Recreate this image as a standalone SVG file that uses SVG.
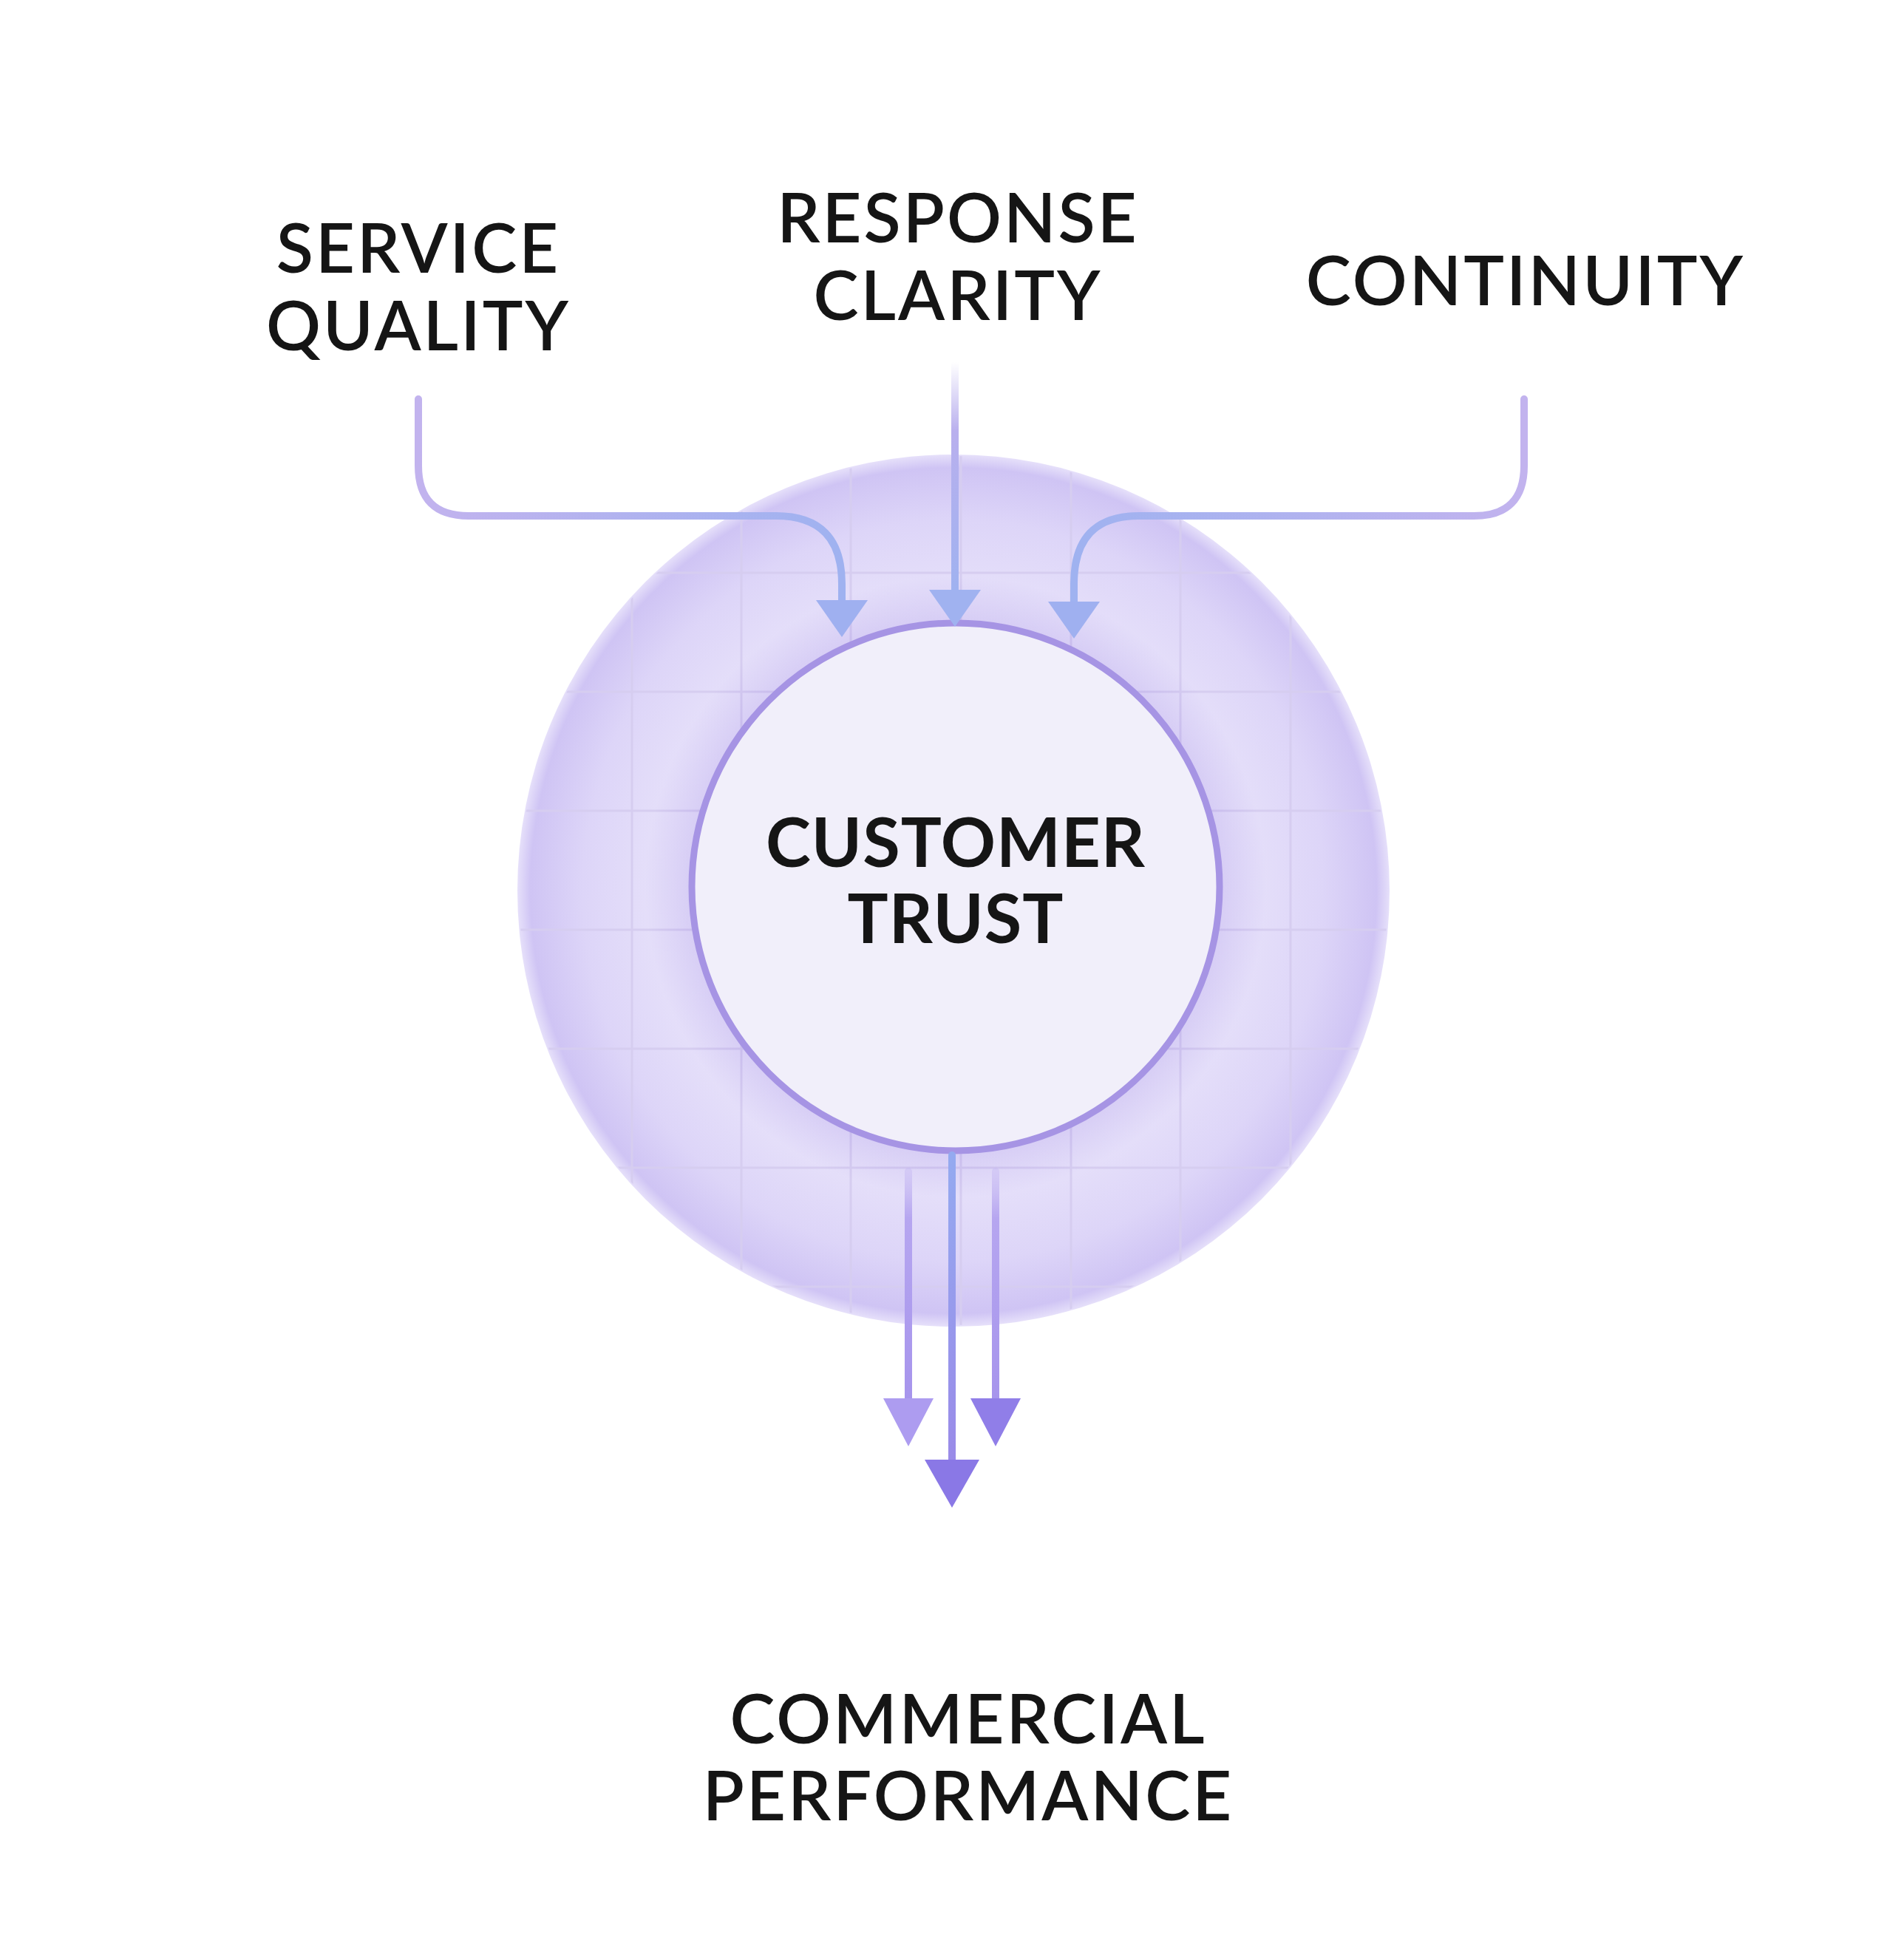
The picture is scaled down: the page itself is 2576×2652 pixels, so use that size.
<svg xmlns="http://www.w3.org/2000/svg" width="2576" height="2652" viewBox="0 0 2576 2652">
<style>
.lbl{font-family:Lato,"Open Sans","Liberation Sans",sans-serif;font-size:92px;font-weight:600;fill:#151515;text-anchor:middle;letter-spacing:3px}
.b{font-weight:700;letter-spacing:1px}
.ln{fill:none;stroke-width:10;stroke-linecap:round;stroke-linejoin:round}
.grid{stroke:#d6cdf0;stroke-width:3;fill:none}
</style>
<defs>
<radialGradient id="og" cx="0.5" cy="0.5" r="0.5">
<stop offset="0.55" stop-color="#ece8fb"/>
<stop offset="0.85" stop-color="#ddd5f8"/>
<stop offset="0.97" stop-color="#cfc4f4"/>
<stop offset="1" stop-color="#e6e0fa"/>
</radialGradient>
<radialGradient id="glow" cx="0.5" cy="0.5" r="0.5">
<stop offset="0.7" stop-color="#a48ee6" stop-opacity="0.55"/>
<stop offset="1" stop-color="#a48ee6" stop-opacity="0"/>
</radialGradient>
<linearGradient id="lg" gradientUnits="userSpaceOnUse" x1="566" y1="0" x2="1139" y2="0">
<stop offset="0" stop-color="#c2b3ee"/>
<stop offset="1" stop-color="#9fb2f0"/>
</linearGradient>
<linearGradient id="rg" gradientUnits="userSpaceOnUse" x1="2062" y1="0" x2="1453" y2="0">
<stop offset="0" stop-color="#c2b3ee"/>
<stop offset="1" stop-color="#9fb2f0"/>
</linearGradient>
<linearGradient id="vg" gradientUnits="userSpaceOnUse" x1="0" y1="490" x2="0" y2="800">
<stop offset="0" stop-color="#ffffff"/>
<stop offset="0.3" stop-color="#b9b0ee"/>
<stop offset="1" stop-color="#9fb2f0"/>
</linearGradient>
<linearGradient id="dg" gradientUnits="userSpaceOnUse" x1="0" y1="1585" x2="0" y2="1900">
<stop offset="0" stop-color="#c3b5f2" stop-opacity="0.4"/>
<stop offset="0.2" stop-color="#b6a6f0"/>
<stop offset="1" stop-color="#a694ec"/>
</linearGradient>
<linearGradient id="dc" gradientUnits="userSpaceOnUse" x1="0" y1="1563" x2="0" y2="1985">
<stop offset="0" stop-color="#94aaf0"/>
<stop offset="1" stop-color="#9a8ae8"/>
</linearGradient>
<clipPath id="oc"><circle cx="1290" cy="1205" r="588"/></clipPath>
</defs>

<g id="outer-ring">
<circle cx="1290" cy="1205" r="590" fill="url(#og)"/>
<g clip-path="url(#oc)" class="grid">
<line x1="855" y1="600" x2="855" y2="1800"/><line x1="1003" y1="600" x2="1003" y2="1800"/><line x1="1151" y1="600" x2="1151" y2="1800"/><line x1="1300" y1="600" x2="1300" y2="1800"/><line x1="1449" y1="600" x2="1449" y2="1800"/><line x1="1597" y1="600" x2="1597" y2="1800"/><line x1="1746" y1="600" x2="1746" y2="1800"/>
<line x1="690" y1="775" x2="1890" y2="775"/><line x1="690" y1="936" x2="1890" y2="936"/><line x1="690" y1="1097" x2="1890" y2="1097"/><line x1="690" y1="1258" x2="1890" y2="1258"/><line x1="690" y1="1419" x2="1890" y2="1419"/><line x1="690" y1="1580" x2="1890" y2="1580"/><line x1="690" y1="1741" x2="1890" y2="1741"/>
</g>
</g>

<g id="customer-trust">
<circle cx="1293" cy="1200" r="420" fill="url(#glow)"/>
<circle cx="1293" cy="1200" r="357" fill="#f1effa" stroke="#a694e4" stroke-width="9"/>
<text class="lbl b" x="1293" y="1173">CUSTOMER</text>
<text class="lbl b" x="1293" y="1276">TRUST</text>
</g>

<g id="service-quality"><text class="lbl" x="566" y="369">SERVICE</text><text class="lbl" x="566" y="474">QUALITY</text></g>
<g id="response-clarity"><text class="lbl" x="1296" y="328">RESPONSE</text><text class="lbl" x="1296" y="433">CLARITY</text></g>
<g id="continuity"><text class="lbl" x="2064" y="413">CONTINUITY</text></g>
<g id="commercial-performance"><text class="lbl" x="1310" y="2359">COMMERCIAL</text><text class="lbl" x="1310" y="2463">PERFORMANCE</text></g>

<g id="connectors">
<path class="ln" stroke="url(#lg)" d="M566 540 V630 Q566 698 634 698 H1050 Q1139 698 1139 790 V812"/>
<polygon points="1104,812 1174,812 1139,862" fill="#9fb0f0"/>
<path class="ln" stroke="url(#vg)" d="M1292 490 V800"/>
<polygon points="1257,798 1327,798 1292,848" fill="#a0b2f0"/>
<path class="ln" stroke="url(#rg)" d="M2062 540 V630 Q2062 698 1994 698 H1540 Q1453 698 1453 790 V814"/>
<polygon points="1418,814 1488,814 1453,864" fill="#9fb0f0"/>
<path class="ln" stroke="url(#dg)" d="M1229 1585 V1900"/>
<polygon points="1195,1892 1263,1892 1229,1957" fill="#ad9cf0"/>
<path class="ln" stroke="url(#dg)" d="M1347 1585 V1900"/>
<polygon points="1313,1892 1381,1892 1347,1957" fill="#907ee8"/>
<path class="ln" stroke="url(#dc)" d="M1288 1563 V1985"/>
<polygon points="1251,1975 1325,1975 1288,2040" fill="#8a78e6"/>
</g>
</svg>
